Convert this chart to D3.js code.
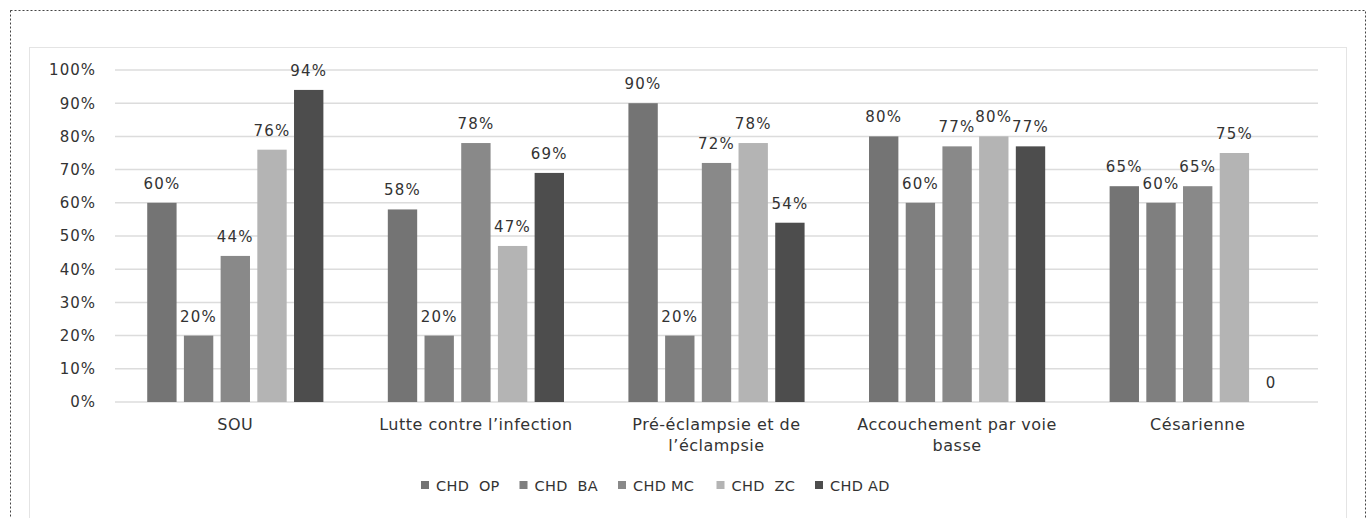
<!DOCTYPE html>
<html>
<head>
<meta charset="utf-8">
<script src="https://cdn.jsdelivr.net/npm/d3@7/dist/d3.min.js"></script>
<style>
  html, body { margin: 0; padding: 0; background: #fff; }
  svg text { font-family: "DejaVu Sans", Verdana, sans-serif; fill: #333; }
</style>
</head>
<body>
<svg id="chart" width="1370" height="518"></svg>
<script>
const categories = ["SOU", "Lutte contre l’infection", "Pré-éclampsie et de l’éclampsie", "Accouchement par voie basse", "Césarienne"];
const seriesNames = ["CHD  OP", "CHD  BA", "CHD MC", "CHD  ZC", "CHD AD"];
const seriesColors = ["#747474", "#7f7f7f", "#898989", "#b4b4b4", "#4d4d4d"];
const chdOP = [60, 58, 90, 80, 65];
const chdBA = [20, 20, 20, 60, 60];
const chdMC = [44, 78, 72, 77, 65];
const chdZC = [76, 47, 78, 80, 75];
const chdAD = [94, 69, 54, 77, 0];
const seriesValues = [chdOP, chdBA, chdMC, chdZC, chdAD];
const yTicks = [0, 10, 20, 30, 40, 50, 60, 70, 80, 90, 100];
const valueLabel = (v) => v === 0 ? "0" : v + "%";

const svg = d3.select("#chart");

// frames
svg.append("rect").attr("x", 10.5).attr("y", 10.5).attr("width", 1355).attr("height", 520)
  .attr("fill", "none").attr("stroke", "#444").attr("stroke-width", 1).attr("stroke-dasharray", "2,2");
svg.append("rect").attr("x", 29.5).attr("y", 47.5).attr("width", 1317).attr("height", 480)
  .attr("fill", "none").attr("stroke", "#e4e4e4").attr("stroke-width", 1);

const plotLeft = 115, plotRight = 1318, plotTop = 70, plotBottom = 402;

const y = d3.scaleLinear().domain([0, 100]).range([plotBottom, plotTop]);
const x0 = d3.scaleBand().domain(categories).range([plotLeft, plotRight])
  .paddingInner(0.2373).paddingOuter(0.2373 / 2);
const x1 = d3.scaleBand().domain(seriesNames).range([0, x0.bandwidth()])
  .paddingInner(0.2).paddingOuter(0.1);

// gridlines
svg.append("g").selectAll("line").data(yTicks).join("line")
  .attr("x1", plotLeft).attr("x2", plotRight)
  .attr("y1", d => y(d)).attr("y2", d => y(d))
  .attr("stroke", "#dcdcdc").attr("stroke-width", 1.5);

// y axis labels
const yAxis = d3.axisLeft(y).tickValues(yTicks).tickFormat(d => d + "%").tickSize(0).tickPadding(0);
const yg = svg.append("g").attr("transform", `translate(${plotLeft - 19},0)`).call(yAxis);
yg.select(".domain").remove();
yg.selectAll("text").attr("font-size", 15).attr("font-family", "DejaVu Sans").attr("fill", "#333")
  .style("letter-spacing", "1px");

// bars
const groups = svg.append("g").selectAll("g").data(categories).join("g")
  .attr("transform", d => `translate(${x0(d)},0)`);

groups.each(function(cat, ci) {
  const g = d3.select(this);
  const data = seriesNames.map((s, si) => ({ s, si, v: seriesValues[si][ci] }));
  g.selectAll("rect").data(data.filter(d => d.v > 0)).join("rect")
    .attr("x", d => x1(d.s)).attr("width", x1.bandwidth())
    .attr("y", d => y(d.v)).attr("height", d => y(0) - y(d.v))
    .attr("fill", d => seriesColors[d.si]);
  g.selectAll("text").data(data).join("text")
    .attr("x", d => x1(d.s) + x1.bandwidth() / 2)
    .attr("y", d => y(d.v) - 14)
    .attr("text-anchor", "middle")
    .attr("font-size", 15)
    .style("letter-spacing", "1.2px")
    .text(d => valueLabel(d.v));
});

// category labels with wrapping
function wrap(textSel, width) {
  textSel.each(function() {
    const text = d3.select(this);
    const words = text.text().split(/\s+/);
    const xx = text.attr("x");
    text.text(null);
    let line = [];
    let tspan = text.append("tspan").attr("x", xx).attr("dy", 0);
    for (const w of words) {
      line.push(w);
      tspan.text(line.join(" "));
      if (tspan.node().getComputedTextLength() > width && line.length > 1) {
        line.pop();
        tspan.text(line.join(" "));
        line = [w];
        tspan = text.append("tspan").attr("x", xx).attr("dy", 21).text(w);
      }
    }
  });
}
svg.append("g").selectAll("text").data(categories).join("text")
  .attr("x", d => x0(d) + x0.bandwidth() / 2)
  .attr("y", 430)
  .attr("text-anchor", "middle")
  .attr("font-size", 16)
  .style("letter-spacing", "0.5px")
  .text(d => d)
  .call(wrap, x0.step() * 0.93);

// legend
const legend = svg.append("g").selectAll("g").data(seriesNames).join("g")
  .attr("transform", (d, i) => `translate(${421 + i * 98.5},485)`);
legend.append("rect").attr("x", 0).attr("y", -4).attr("width", 8).attr("height", 8)
  .attr("fill", (d, i) => seriesColors[i]);
legend.append("text").attr("x", 15).attr("y", 5.5).attr("font-size", 14.5)
  .style("white-space", "pre").style("letter-spacing", "0.3px")
  .text(d => d);
</script>
</body>
</html>
